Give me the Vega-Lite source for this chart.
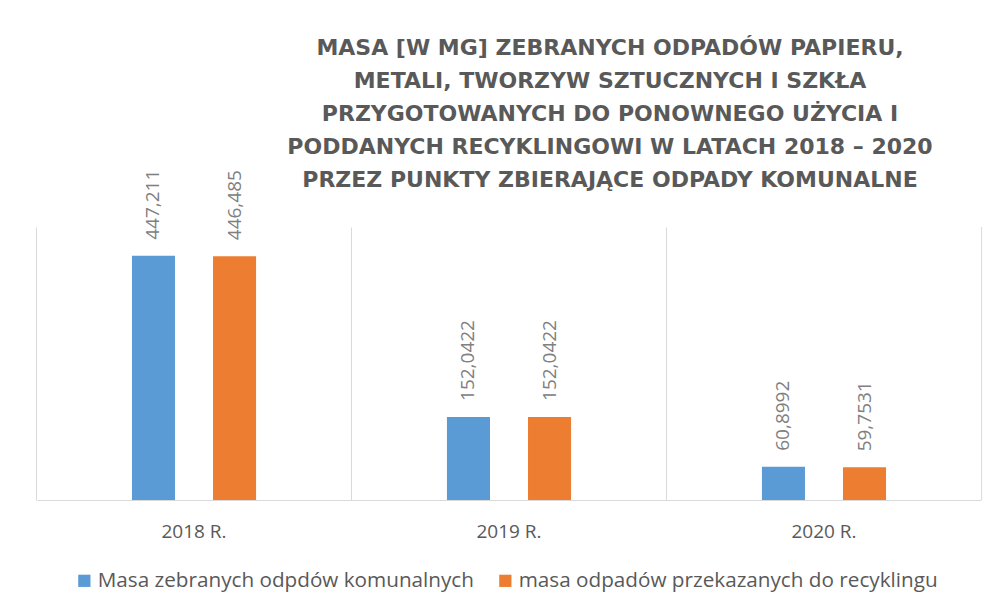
{
  "$schema": "https://vega.github.io/schema/vega-lite/v6.json",
  "width": 944,
  "height": 273,
  "autosize": "none",
  "padding": {"left": 37, "top": 227, "right": 14, "bottom": 112},
  "background": "white",
  "config": {
    "locale": {"number": {"decimal": ",", "thousands": " ", "grouping": [3], "currency": ["", " zł"]}},
    "view": {"stroke": null},
    "font": "Open Sans"
  },
  "title": {
    "text": [
      "MASA [W MG] ZEBRANYCH ODPADÓW PAPIERU,",
      "METALI, TWORZYW SZTUCZNYCH I SZKŁA",
      "PRZYGOTOWANYCH DO PONOWNEGO UŻYCIA I",
      "PODDANYCH RECYKLINGOWI W LATACH 2018 – 2020",
      "PRZEZ PUNKTY ZBIERAJĄCE ODPADY KOMUNALNE"
    ],
    "font": "DejaVu Sans",
    "fontWeight": "bold",
    "fontSize": 22,
    "color": "#595959",
    "lineHeight": 33,
    "anchor": "middle",
    "dx": 101,
    "dy": 57,
    "offset": 35
  },
  "data": {
    "values": [
      {"year": "2018 R.", "series": "Masa zebranych odpdów komunalnych", "value": 447.211},
      {"year": "2018 R.", "series": "masa odpadów przekazanych do recyklingu", "value": 446.485},
      {"year": "2019 R.", "series": "Masa zebranych odpdów komunalnych", "value": 152.0422},
      {"year": "2019 R.", "series": "masa odpadów przekazanych do recyklingu", "value": 152.0422},
      {"year": "2020 R.", "series": "Masa zebranych odpdów komunalnych", "value": 60.8992},
      {"year": "2020 R.", "series": "masa odpadów przekazanych do recyklingu", "value": 59.7531}
    ]
  },
  "layer": [
    {
      "mark": {"type": "bar"},
      "encoding": {
        "x": {
          "field": "year", "type": "nominal",
          "scale": {"paddingInner": 0.606, "paddingOuter": 0.3015},
          "axis": {
            "title": null, "labelAngle": 0, "bandPosition": -0.77,
            "grid": true, "gridColor": "#d9d9d9", "gridWidth": 1,
            "domain": true, "domainColor": "#d9d9d9", "domainWidth": 1,
            "ticks": false, "labelFont": "Open Sans", "labelFontSize": 19,
            "labelColor": "#595959", "labelPadding": 22
          }
        },
        "xOffset": {
          "field": "series", "type": "nominal",
          "scale": {"domain": ["Masa zebranych odpdów komunalnych", "masa odpadów przekazanych do recyklingu"], "paddingInner": 0.469, "paddingOuter": 0}
        },
        "y": {
          "field": "value", "type": "quantitative",
          "scale": {"domain": [0, 500], "nice": false},
          "axis": null
        },
        "color": {
          "field": "series", "type": "nominal",
          "scale": {"domain": ["Masa zebranych odpdów komunalnych", "masa odpadów przekazanych do recyklingu"], "range": ["#5b9bd5", "#ed7d31"]},
          "legend": {
            "title": null, "orient": "none", "direction": "horizontal",
            "legendX": 37, "legendY": 343,
            "symbolType": "square", "symbolSize": 150, "symbolStrokeWidth": 0,
            "labelFont": "Open Sans", "labelFontSize": 20.7, "labelColor": "#595959",
            "labelLimit": 0, "columnPadding": 21, "labelOffset": 3
          }
        }
      }
    },
    {
      "mark": {"type": "text", "angle": 270, "align": "left", "baseline": "middle", "dx": 16, "fontSize": 19, "color": "#808080", "font": "Open Sans"},
      "encoding": {
        "x": {"field": "year", "type": "nominal"},
        "xOffset": {"field": "series", "type": "nominal"},
        "y": {"field": "value", "type": "quantitative"},
        "text": {"field": "value", "type": "quantitative", "format": ".7~g"}
      }
    },
    {
      "data": {"values": [{"year": "2020 R."}]},
      "mark": {"type": "rule", "color": "#d9d9d9", "strokeWidth": 1},
      "encoding": {
        "x": {"field": "year", "type": "nominal", "bandPosition": 1.77}
      }
    }
  ]
}
